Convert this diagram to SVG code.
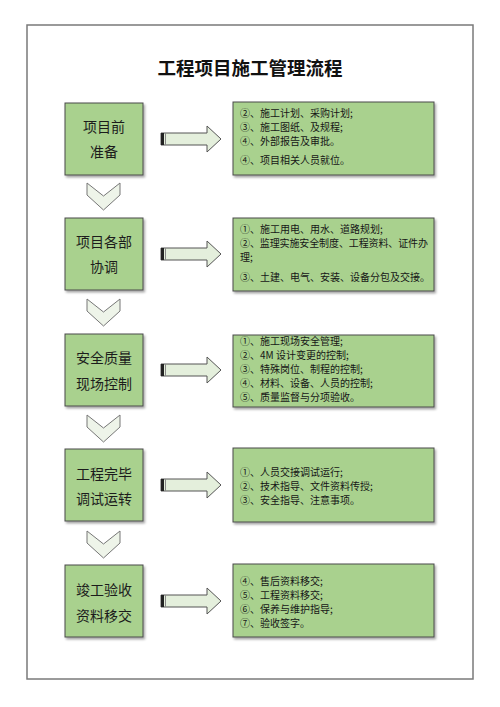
<svg xmlns="http://www.w3.org/2000/svg" xmlns:xlink="http://www.w3.org/1999/xlink" width="500" height="707" viewBox="0 0 500 707">
<style>
.frame{fill:#fff;stroke:#7a7a7a;stroke-width:1.5}
.box{fill:#a9d18e;stroke:#4a4a4a;stroke-width:1}
.title{font-family:"Noto Sans CJK SC",sans-serif;font-size:18.5px;font-weight:bold;fill:#111;text-anchor:middle}
.lt{font-family:"Noto Sans CJK SC",sans-serif;font-size:14px;fill:#1c1c1c;text-anchor:middle}
.rt{font-family:"Noto Sans CJK SC",sans-serif;font-size:10px;fill:#161616}
.arrow{fill:#e4efdc;stroke:#555;stroke-width:1}
.chev{fill:#eef4e9;stroke:#777;stroke-width:1}
</style>
<defs>
<filter id="sh" x="-10%" y="-10%" width="130%" height="130%">
<feDropShadow dx="1.5" dy="2" stdDeviation="1.2" flood-color="#000" flood-opacity="0.35"/>
</filter>
<g id="arr">
<polygon class="arrow" points="161,-6 207,-6 207,-13 221,0 207,13 207,6 161,6"/>
<rect x="161" y="-6" width="3" height="12" fill="#222"/>
<line x1="165.5" y1="-6" x2="165.5" y2="6" stroke="#888" stroke-width="1"/>
</g>
<polygon id="chv" class="chev" points="87,0 103.5,13 120,0 120,12 103.5,27 87,12"/>
</defs>
<rect class="frame" x="27" y="25" width="446" height="654"/>
<text class="title" x="250" y="75">工程项目施工管理流程</text>

<g id="connectors">
<use xlink:href="#arr" href="#arr" transform="translate(0,139)"/>
<use xlink:href="#arr" href="#arr" transform="translate(0,254)"/>
<use xlink:href="#arr" href="#arr" transform="translate(0,370)"/>
<use xlink:href="#arr" href="#arr" transform="translate(0,485)"/>
<use xlink:href="#arr" href="#arr" transform="translate(0,601)"/>
<use xlink:href="#chv" href="#chv" transform="translate(0,183)"/>
<use xlink:href="#chv" href="#chv" transform="translate(0,299)"/>
<use xlink:href="#chv" href="#chv" transform="translate(0,415)"/>
<use xlink:href="#chv" href="#chv" transform="translate(0,531)"/>
</g>

<g id="step1">
<rect class="box" x="65" y="103" width="78" height="72" filter="url(#sh)"/>
<text class="lt" x="104" y="132">项目前</text>
<text class="lt" x="104" y="157">准备</text>
</g>
<g id="detail1">
<rect class="box" x="233" y="102" width="201" height="73" filter="url(#sh)"/>
<text class="rt"><tspan x="240" y="117">②、施工计划、采购计划;</tspan><tspan x="240" y="131">③、施工图纸、及规程;</tspan><tspan x="240" y="145">④、外部报告及审批。</tspan><tspan x="240" y="164">④、项目相关人员就位。</tspan></text>
</g>

<g id="step2">
<rect class="box" x="65" y="218" width="78" height="72" filter="url(#sh)"/>
<text class="lt" x="104" y="247">项目各部</text>
<text class="lt" x="104" y="272">协调</text>
</g>
<g id="detail2">
<rect class="box" x="233" y="218" width="201" height="73" filter="url(#sh)"/>
<text class="rt"><tspan x="240" y="233">①、施工用电、用水、道路规划;</tspan><tspan x="240" y="247" textLength="188" lengthAdjust="spacing">②、监理实施安全制度、工程资料、证件办</tspan><tspan x="240" y="261">理;</tspan><tspan x="240" y="281">③、土建、电气、安装、设备分包及交接。</tspan></text>
</g>

<g id="step3">
<rect class="box" x="65" y="334" width="78" height="72" filter="url(#sh)"/>
<text class="lt" x="104" y="363">安全质量</text>
<text class="lt" x="104" y="389">现场控制</text>
</g>
<g id="detail3">
<rect class="box" x="233" y="335" width="201" height="72" filter="url(#sh)"/>
<text class="rt"><tspan x="240" y="345">①、施工现场安全管理;</tspan><tspan x="240" y="359">②、4M 设计变更的控制;</tspan><tspan x="240" y="373">③、特殊岗位、制程的控制;</tspan><tspan x="240" y="387">④、材料、设备、人员的控制;</tspan><tspan x="240" y="401">⑤、质量监督与分项验收。</tspan></text>
</g>

<g id="step4">
<rect class="box" x="65" y="449" width="78" height="72" filter="url(#sh)"/>
<text class="lt" x="104" y="479">工程完毕</text>
<text class="lt" x="104" y="504">调试运转</text>
</g>
<g id="detail4">
<rect class="box" x="233" y="448" width="201" height="74" filter="url(#sh)"/>
<text class="rt"><tspan x="240" y="476">①、人员交接调试运行;</tspan><tspan x="240" y="490">②、技术指导、文件资料传授;</tspan><tspan x="240" y="504">③、安全指导、注意事项。</tspan></text>
</g>

<g id="step5">
<rect class="box" x="65" y="565" width="78" height="72" filter="url(#sh)"/>
<text class="lt" x="104" y="595">竣工验收</text>
<text class="lt" x="104" y="621">资料移交</text>
</g>
<g id="detail5">
<rect class="box" x="233" y="564" width="201" height="73" filter="url(#sh)"/>
<text class="rt"><tspan x="240" y="585">④、售后资料移交;</tspan><tspan x="240" y="599">⑤、工程资料移交;</tspan><tspan x="240" y="613">⑥、保养与维护指导;</tspan><tspan x="240" y="627">⑦、验收签字。</tspan></text>
</g>
</svg>
